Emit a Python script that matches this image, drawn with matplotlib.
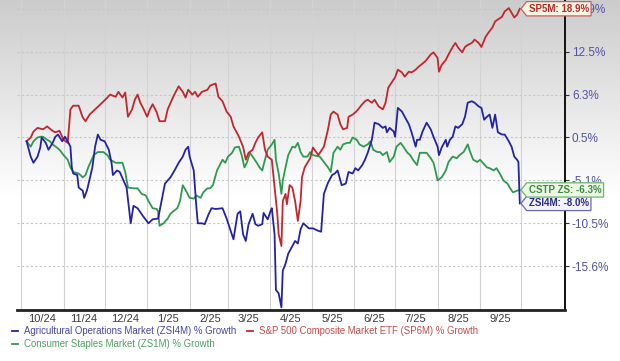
import numpy as np
import matplotlib
matplotlib.use('Agg')
import matplotlib.pyplot as plt
import matplotlib.dates as mdates
from matplotlib.path import Path
from matplotlib.ticker import FixedLocator, FuncFormatter, NullFormatter

plt.rcParams['font.family'] = ['Liberation Sans', 'DejaVu Sans']

# data : day offsets from 2024-10-01 and % growth
start = np.datetime64('2024-10-01')

red_days = [4, 7, 9, 12, 16, 19, 23, 25, 28, 31,
            34, 36, 38, 42, 45, 47, 50, 54, 58, 63,
            65, 69, 71, 74, 76, 78, 81, 83, 85, 87,
            89, 92, 94, 96, 99, 101, 105, 107, 111, 115,
            118, 120, 122, 125, 127, 129, 132, 136, 138, 142,
            144, 147, 150, 153, 155, 159, 162, 164, 166, 169,
            171, 173, 176, 178, 180, 183, 187, 188, 190, 191,
            193, 194, 196, 198, 200, 202, 204, 205, 207, 211,
            213, 217, 221, 224, 226, 228, 231, 233, 235, 238,
            239, 242, 244, 246, 249, 251, 253, 256, 258, 261,
            264, 266, 268, 271, 273, 275, 278, 280, 283, 285,
            288, 290, 295, 299, 301, 304, 305, 307, 310, 312,
            315, 317, 319, 322, 324, 326, 329, 331, 334, 336,
            339, 341, 344, 346, 348, 351, 353, 356, 358, 360,
            362, 364]
red_vals = [0.0, 0.5, 1.3, 1.8, 1.6, 2.0, 1.4, 1.2, 1.4, 0.2,
            -0.2, 4.3, 4.8, 4.8, 3.2, 2.7, 3.6, 4.3, 5.0, 5.9,
            6.3, 6.0, 6.7, 5.9, 6.6, 3.3, 4.3, 5.6, 6.3, 5.2,
            4.5, 3.3, 4.3, 5.0, 3.9, 2.7, 2.7, 4.3, 6.0, 7.5,
            6.7, 5.9, 7.0, 6.3, 6.7, 6.0, 6.7, 7.0, 7.6, 7.9,
            6.0, 5.4, 4.0, 3.3, 2.0, 0.6, -0.7, -2.4, -1.5, -1.1,
            -0.2, 0.5, 1.2, -1.1, -2.0, -2.4, -9.3, -11.8, -13.2, -7.7,
            -6.8, -8.1, -5.7, -6.0, -7.7, -10.2, -7.7, -4.7, -3.4, -2.2,
            -0.8, -1.8, -0.7, 1.6, 3.6, 4.0, 3.6, 2.3, 1.6, 1.8,
            3.3, 3.6, 3.9, 4.3, 5.0, 5.4, 5.6, 5.2, 5.6, 4.7,
            4.3, 5.2, 7.3, 8.2, 8.8, 9.9, 9.5, 8.9, 9.6, 9.5,
            9.9, 10.3, 11.1, 12.1, 12.4, 11.6, 9.6, 10.6, 11.3, 12.1,
            13.2, 13.8, 13.1, 12.4, 13.2, 13.5, 13.8, 14.3, 13.8, 13.2,
            14.7, 15.3, 16.1, 17.0, 17.3, 17.7, 18.5, 19.0, 18.3, 17.6,
            18.0, 18.9]

blue_days = [4, 7, 9, 12, 14, 15, 18, 20, 23, 25,
             27, 30, 32, 34, 36, 37, 38, 41, 42, 45,
             46, 48, 49, 52, 54, 56, 58, 61, 64, 66,
             67, 70, 72, 77, 80, 82, 85, 89, 93, 96,
             100, 103, 105, 109, 112, 115, 118, 120, 122, 123,
             126, 128, 129, 132, 134, 137, 139, 142, 147, 150,
             153, 155, 158, 160, 162, 164, 166, 169, 171, 173,
             176, 177, 180, 182, 183, 185, 186, 188, 190, 191,
             193, 195, 198, 200, 202, 204, 206, 210, 213, 217,
             219, 221, 224, 227, 229, 231, 234, 237, 239, 242,
             244, 246, 249, 251, 253, 256, 258, 261, 264, 266,
             267, 269, 272, 273, 275, 278, 280, 283, 285, 288,
             289, 291, 293, 296, 299, 301, 304, 305, 307, 310,
             311, 313, 315, 317, 319, 322, 324, 326, 329, 331,
             334, 336, 338, 340, 342, 344, 346, 348, 351, 353,
             356, 358, 360, 362, 363, 364]
blue_vals = [0.0, -2.0, -2.8, -2.0, -0.8, 0.5, -0.2, -1.1, -0.2, 0.6,
             0.9, 0.0, 0.6, 0.0, -0.7, -3.4, -4.2, -4.4, -6.0, -6.4,
             -7.3, -6.4, -5.7, -3.4, -0.7, 0.9, 0.2, 0.0, -1.1, -2.8,
             -4.4, -3.8, -4.0, -6.0, -10.5, -8.3, -8.6, -9.6, -10.5, -10.0,
             -9.9, -7.3, -5.5, -4.7, -3.8, -2.8, -2.0, -1.1, -0.7, -2.0,
             -3.8, -8.6, -10.5, -10.5, -10.6, -9.3, -8.6, -8.7, -8.6, -9.9,
             -11.4, -12.4, -9.3, -9.0, -11.8, -12.6, -10.6, -9.3, -10.6, -10.8,
             -10.6, -9.2, -10.0, -9.0, -8.6, -11.8, -18.3, -18.7, -20.3, -16.1,
             -15.3, -14.1, -13.2, -12.6, -12.9, -11.2, -10.5, -11.1, -11.1, -11.4,
             -11.5, -6.8, -5.4, -4.4, -4.2, -3.8, -5.7, -5.5, -4.0, -4.2,
             -3.5, -3.8, -3.1, -2.4, -1.5, 0.2, 2.5, 2.3, 1.8, 2.0,
             1.2, 1.8, 1.3, 0.6, 4.5, 4.0, 3.3, 2.3, 1.2, -0.7,
             0.2, 0.2, 1.3, 2.5, 1.6, 0.6, -0.7, -1.8, -0.8, 0.2,
             -0.7, 0.2, 0.6, 2.0, 1.8, 2.3, 3.3, 5.2, 5.4, 5.2,
             4.7, 4.5, 2.9, 3.3, 3.6, 1.8, 3.6, 1.2, 0.9, 0.9,
             0.0, -0.7, -2.0, -2.4, -2.7, -8.0]

green_days = [4, 7, 9, 12, 14, 16, 19, 21, 23, 26,
              28, 31, 34, 36, 38, 42, 45, 47, 49, 53,
              56, 60, 63, 65, 69, 74, 76, 78, 82, 85,
              88, 91, 93, 96, 99, 100, 101, 104, 107, 109,
              111, 114, 116, 118, 121, 123, 126, 128, 131, 133,
              136, 138, 140, 143, 147, 149, 151, 154, 156, 159,
              161, 163, 165, 167, 169, 172, 174, 176, 178, 180,
              183, 185, 186, 188, 190, 191, 193, 195, 198, 200,
              202, 204, 206, 209, 211, 213, 218, 221, 224, 226,
              228, 231, 233, 235, 238, 240, 242, 245, 247, 250,
              253, 255, 257, 260, 262, 264, 267, 269, 272, 274,
              277, 279, 282, 284, 286, 289, 291, 293, 296, 299,
              301, 302, 304, 307, 310, 312, 315, 318, 320, 323,
              326, 328, 330, 333, 335, 337, 340, 342, 345, 347,
              350, 352, 355, 357, 359, 362, 364]
green_vals = [0.0, -0.7, 0.0, 0.5, 0.6, 0.6, 0.2, 0.0, -0.4, -0.8,
              -1.1, -1.8, -2.4, -3.4, -4.0, -4.2, -4.7, -4.4, -3.4, -1.8,
              -1.4, -1.4, -1.8, -2.4, -2.8, -2.8, -4.0, -6.0, -6.1, -6.1,
              -6.8, -7.0, -7.7, -8.6, -8.7, -9.0, -10.8, -10.5, -9.9, -9.3,
              -9.0, -8.6, -7.7, -5.7, -6.6, -7.3, -7.4, -7.0, -7.3, -6.6,
              -6.1, -6.1, -5.7, -3.8, -2.4, -2.8, -2.0, -1.5, -0.8, -0.7,
              -1.8, -3.4, -2.7, -1.5, -2.0, -2.8, -3.4, -3.8, -2.4, -1.1,
              -0.4, 0.2, -2.4, -4.2, -6.8, -5.1, -3.4, -1.8, -0.7, -0.8,
              -0.2, -1.4, -2.0, -2.0, -1.4, -1.8, -2.0, -2.7, -3.4, -4.0,
              -1.5, -0.7, -1.1, -0.4, -0.2, -0.2, 0.5, 0.2, -0.4, -0.7,
              -0.4, 0.0, -1.1, -1.4, -1.4, -1.8, -1.4, -2.7, -2.0, -0.7,
              -0.2, -0.7, -1.5, -1.8, -2.4, -3.1, -1.5, -1.5, -1.5, -2.2,
              -2.8, -3.5, -5.1, -4.7, -3.8, -2.7, -2.0, -2.2, -1.8, -1.4,
              -0.4, -1.5, -2.4, -2.7, -2.4, -2.8, -3.4, -3.5, -3.8, -3.5,
              -4.4, -5.1, -5.5, -6.1, -6.6, -6.4, -6.3]

print(len(red_days), len(red_vals), len(blue_days), len(blue_vals), len(green_days), len(green_vals))

y_ticks = [-15.6, -10.5, -5.1, 0.5, 6.3, 12.5, 18.9]
month_labels = ['10/24', '11/24', '12/24', '1/25', '2/25', '3/25',
                '4/25', '5/25', '6/25', '7/25', '8/25', '9/25']

names = ['Agricultural Operations Market (ZSI4M) % Growth',
         'Consumer Staples Market (ZS1M) % Growth',
         'S&P 500 Composite Market ETF (SP6M) % Growth']
tags = ['ZSI4M: -8.0%', 'CSTP ZS: -6.3%', 'SP5M: 18.9%']

# y axis : ticks evenly spaced
sc_g = [-45.0] + y_ticks + [45.0]
sc_i = [-6.0, 0, 1, 2, 3, 4, 5, 6, 10.1]

def fwd(v):
    return np.interp(v, sc_g, sc_i)

def inv(v):
    return np.interp(v, sc_i, sc_g)

def to_dates(days):
    return start + np.array(days, dtype='timedelta64[D]')

def tag_box(x0, y0, width, height, mutation_size):
    pad = 0.22 * mutation_size
    x0, y0 = x0 - pad, y0 - pad
    w, h = width + 2 * pad, height + 2 * pad
    tip = 0.4 * h
    verts = [(x0 - tip, y0 + h / 2), (x0, y0), (x0 + w, y0),
             (x0 + w, y0 + h), (x0, y0 + h), (x0 - tip, y0 + h / 2)]
    codes = [Path.MOVETO] + [Path.LINETO] * 4 + [Path.CLOSEPOLY]
    return Path(verts, codes)

fig = plt.figure(figsize=(6.2, 3.61), dpi=100)

# background gradient
bg = fig.add_axes([0, 0, 1, 1], zorder=-10)
rows = np.arange(361)
shade = 0.80 + 0.20 * np.clip(rows / 195.0, 0, 1)
img = np.repeat(shade[:, None], 3, axis=1)[:, None, :]
bg.imshow(img, aspect='auto', extent=[0, 1, 0, 1])
bg.axis('off')

ax = fig.add_axes([17 / 620, 51 / 361, 548 / 620, 310 / 361])
ax.set_facecolor('none')
ax.set_yscale('function', functions=(fwd, inv))

c_blue, c_red, c_green = '#2323a6', '#c1272d', '#2f9a4f'
lg, = ax.plot(to_dates(green_days), green_vals, color=c_green, lw=1.3, zorder=3)
lr, = ax.plot(to_dates(red_days), red_vals, color=c_red, lw=1.3, zorder=3)
lb, = ax.plot(to_dates(blue_days), blue_vals, color=c_blue, lw=1.3, zorder=3)

ax.set_xlim(mdates.date2num(np.datetime64('2024-09-28')),
            mdates.date2num(np.datetime64('2025-11-02')))
ax.set_ylim(-20.6, 20.2)

# x axis
ax.xaxis.set_major_locator(mdates.MonthLocator())
ax.xaxis.set_major_formatter(NullFormatter())
mid = []
for m in month_labels:
    mm, yy = m.split('/')
    mid.append(mdates.date2num(np.datetime64('20%s-%02d-16' % (yy, int(mm)))))
ax.xaxis.set_minor_locator(FixedLocator(mid))
ax.xaxis.set_minor_formatter(FuncFormatter(lambda v, p: month_labels[p] if p is not None and p < len(month_labels) else ''))
ax.tick_params(axis='x', which='both', length=0, labelsize=8, labelcolor='#3a3a3a', pad=3)

# y axis
ax.yaxis.tick_right()
ax.yaxis.set_major_locator(FixedLocator(y_ticks))
ax.yaxis.set_major_formatter(FuncFormatter(lambda v, p: '%.1f%%' % v))
ax.yaxis.set_minor_locator(FixedLocator([]))
ax.tick_params(axis='y', which='major', length=3, width=0.8, color='#333333',
               labelcolor='#5252a3', labelsize=8.5, pad=2)

ax.grid(axis='x', which='major', color='#d2d2d2', lw=0.8)
ax.grid(axis='y', which='major', color='#c6c6c6', lw=0.8, linestyle=(0, (2, 2)))

ax.spines['left'].set_visible(False)
ax.spines['top'].set_visible(False)
ax.spines['bottom'].set_linewidth(2.0)
ax.spines['bottom'].set_color('#222222')
ax.spines['right'].set_linewidth(1.4)
ax.spines['right'].set_color('#111111')

# end tags
ends = [(blue_days[-1], blue_vals[-1], tags[0], '#2a2a8c', '#f3f3f8', '#6a6aa8', 6),
        (green_days[-1], green_vals[-1], tags[1], '#3b8a45', '#eef6e4', '#6cb56c', 7),
        (red_days[-1], red_vals[-1], tags[2], '#b42a2a', '#fdf5e2', '#c86060', 7)]
for d, v, t, tc, fc, ec, z in ends:
    ax.annotate(t, xy=(to_dates([d])[0], v), xytext=(6.5, 0), textcoords='offset points',
                ha='left', va='center', fontsize=7, fontweight='bold', color=tc,
                bbox=dict(boxstyle=tag_box, fc=fc, ec=ec, lw=0.9),
                zorder=z, annotation_clip=False)

leg = fig.legend([lb, lg, lr], names, loc='upper left',
                 bbox_to_anchor=(12 / 620, 1 - 326 / 361), ncol=2, frameon=False,
                 fontsize=6.9, handlelength=0.6, handletextpad=0.6,
                 columnspacing=1.2, labelspacing=0.3, borderpad=0, borderaxespad=0)
for t, c in zip(leg.get_texts(), ['#4545a8', '#4f9e62', '#c94a4a']):
    t.set_color(c)

plt.savefig('out.png', dpi=100)
